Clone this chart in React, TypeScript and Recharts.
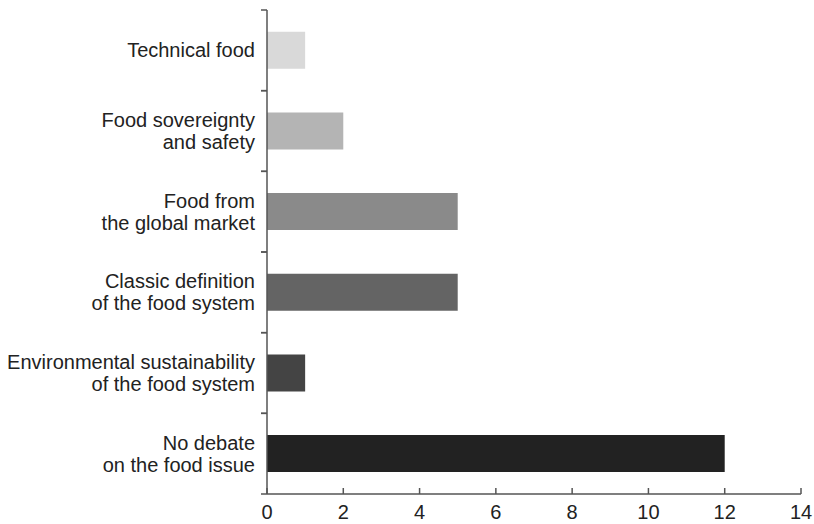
import { BarChart, Bar, XAxis, YAxis, Cell } from 'recharts'

const categories = [
  'Technical food',
  'Food sovereignty\nand safety',
  'Food from\nthe global market',
  'Classic definition\nof the food system',
  'Environmental sustainability\nof the food system',
  'No debate\non the food issue',
]
const counts = [1, 2, 5, 5, 1, 12]
const xTicks = [0, 2, 4, 6, 8, 10, 12, 14]

const barColors = ['#d9d9d9', '#b4b4b4', '#8a8a8a', '#646464', '#444444', '#222222']
const axisColor = '#555555'
const font = '"Liberation Sans", Arial, sans-serif'
const plotTop = 10
const plotBottom = 494

function CategoryTick({ x, y, payload }: any) {
  const lines = String(payload.value).split('\n')
  const lineH = 22
  const band = (plotBottom - plotTop) / categories.length
  const startY = y - ((lines.length - 1) * lineH) / 2
  const ax = x + 7
  return (
    <g>
      <line x1={ax - 6} y1={y - band / 2} x2={ax} y2={y - band / 2} stroke={axisColor} strokeWidth={1.5} />
      <line x1={ax - 6} y1={y + band / 2} x2={ax} y2={y + band / 2} stroke={axisColor} strokeWidth={1.5} />
      <text x={ax - 12} y={startY} textAnchor="end" fontSize={20} fill="#222" fontFamily={font}>
        {lines.map((l, i) => (
          <tspan key={i} x={ax - 12} y={startY + i * lineH} dominantBaseline="central">
            {l}
          </tspan>
        ))}
      </text>
    </g>
  )
}

function ValueTick({ x, y, payload }: any) {
  return (
    <g>
      <line x1={x} y1={y} x2={x} y2={y - 6} stroke={axisColor} strokeWidth={1.5} />
      <text x={x} y={y + 25} textAnchor="middle" fontSize={20} fill="#222" fontFamily={font}>
        {payload.value}
      </text>
    </g>
  )
}

const data = categories.map((name, i) => ({ name, value: counts[i] }))

export default function App() {
  return (
    <div style={{ position: 'absolute', left: 0, top: 0, background: '#fff' }}>
      <BarChart
        width={814}
        height={524}
        data={data}
        layout="vertical"
        margin={{ top: plotTop, right: 13, left: 0, bottom: 0 }}
        barCategoryGap="27%"
      >
        <XAxis
          type="number"
          domain={[0, 14]}
          ticks={xTicks}
          height={30}
          tickSize={0}
          tickMargin={0}
          tick={<ValueTick />}
          axisLine={{ stroke: axisColor, strokeWidth: 1.5 }}
          tickLine={false}
          interval={0}
        />
        <YAxis
          type="category"
          dataKey="name"
          width={267}
          tickSize={5}
          tickMargin={2}
          tick={<CategoryTick />}
          tickLine={false}
          axisLine={{ stroke: axisColor, strokeWidth: 1.5 }}
          interval={0}
        />
        <Bar dataKey="value" isAnimationActive={false}>
          {data.map((d, i) => (
            <Cell key={d.name} fill={barColors[i]} />
          ))}
        </Bar>
      </BarChart>
    </div>
  )
}
